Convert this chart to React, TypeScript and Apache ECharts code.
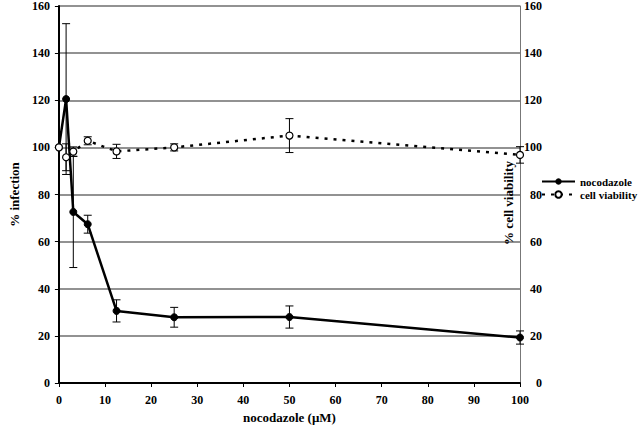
import React, { useEffect, useRef } from "react";
import * as echarts from "echarts";

const concentrations = [0, 1.5625, 3.125, 6.25, 12.5, 25, 50, 100];
const infection = [100, 120.5, 72.6, 67.4, 30.6, 27.9, 28.0, 19.3];
const infectionErr = [0, 32, 23.6, 3.8, 4.7, 4.2, 4.7, 2.8];
const viability = [100, 95.8, 98.2, 102.8, 98.3, 100, 105, 96.8];
const viabilityErr = [0, 5.7, 2, 1.7, 3, 1.5, 7.2, 3.5];
const yTicks = [0, 20, 40, 60, 80, 100, 120, 140, 160];
const xTicks = [0, 10, 20, 30, 40, 50, 60, 70, 80, 90, 100];

const FONT = "Liberation Serif";

function errorBars(err: number[], vals: number[]) {
  return concentrations
    .map((c, i) => [c, vals[i] - err[i], vals[i] + err[i]])
    .filter((_, i) => err[i] > 0);
}

function renderErr(params: any, api: any) {
  const x = api.value(0);
  const lo = api.value(1);
  const hi = api.value(2);
  const p1 = api.coord([x, hi]);
  const p2 = api.coord([x, lo]);
  const w = 4;
  const style = { stroke: "#000", lineWidth: 1 };
  return {
    type: "group",
    children: [
      { type: "line", shape: { x1: p1[0], y1: p1[1], x2: p2[0], y2: p2[1] }, style },
      { type: "line", shape: { x1: p1[0] - w, y1: p1[1], x2: p1[0] + w, y2: p1[1] }, style },
      { type: "line", shape: { x1: p2[0] - w, y1: p2[1], x2: p2[0] + w, y2: p2[1] }, style },
    ],
  };
}

export default function App() {
  const ref = useRef<HTMLDivElement>(null);
  useEffect(() => {
    if (!ref.current) return;
    const chart = echarts.init(ref.current, null, { renderer: "svg" });
    const labelStyle = { fontFamily: FONT, fontWeight: "bold" as const, fontSize: 12, color: "#000" };
    chart.setOption({
      animation: false,
      backgroundColor: "#fff",
      grid: { left: 53, right: 119, top: 6, bottom: 49 },
      legend: {
        orient: "vertical",
        left: 541,
        top: 176,
        padding: 0,
        itemWidth: 33,
        itemHeight: 8,
        itemGap: 2,
        data: ["nocodazole", "cell viability"],
        textStyle: { ...labelStyle, fontSize: 11 },
      },
      graphic: [
        {
          type: "text",
          x: 508,
          y: 203,
          rotation: Math.PI / 2,
          style: {
            text: "% cell viability",
            fontFamily: FONT,
            fontWeight: "bold",
            fontSize: 13,
            fill: "#000",
            align: "center",
            verticalAlign: "middle",
          },
          z: 10,
        },
      ],
      xAxis: {
        type: "value",
        min: 0,
        max: 100,
        interval: 10,
        name: "nocodazole (\u03bcM)",
        nameLocation: "middle",
        nameGap: 28,
        nameTextStyle: { ...labelStyle, fontSize: 13 },
        axisLine: { lineStyle: { color: "#000", width: 2 } },
        axisTick: { show: true, length: 4, lineStyle: { color: "#000", width: 1 } },
        axisLabel: { ...labelStyle, margin: 11, formatter: (v: number) => (xTicks.includes(v) ? String(v) : "") },
        splitLine: { show: false },
      },
      yAxis: [
        {
          type: "value",
          min: 0,
          max: 160,
          interval: 20,
          name: "% infection",
          nameLocation: "middle",
          nameGap: 34,
          nameTextStyle: { ...labelStyle, fontSize: 13 },
          axisLine: { show: true, lineStyle: { color: "#000", width: 2 } },
          axisTick: { show: true, length: 4, lineStyle: { color: "#000", width: 1 } },
          axisLabel: { ...labelStyle, margin: 9, formatter: (v: number) => (yTicks.includes(v) ? String(v) : "") },
          splitLine: { show: true, lineStyle: { color: "#6e6e6e", width: 1.5 } },
        },
        {
          type: "value",
          position: "right",
          min: 0,
          max: 160,
          interval: 20,
          axisLine: { show: true, lineStyle: { color: "#777", width: 1 } },
          axisTick: { show: false },
          axisLabel: { ...labelStyle, margin: 22, align: "right", formatter: (v: number) => (yTicks.includes(v) ? String(v) : "") },
          splitLine: { show: false },
        },
      ],
      series: [
        {
          name: "nocodazole",
          type: "line",
          yAxisIndex: 0,
          data: concentrations.map((c, i) => [c, infection[i]]),
          symbol: "circle",
          symbolSize: 7,
          itemStyle: { color: "#000", borderColor: "#000" },
          lineStyle: { color: "#000", width: 2.5 },
          z: 3,
        },
        {
          name: "cell viability",
          type: "line",
          yAxisIndex: 1,
          data: concentrations.map((c, i) => [c, viability[i]]),
          symbol: "circle",
          symbolSize: 7,
          itemStyle: { color: "#fff", borderColor: "#000", borderWidth: 1.2 },
          lineStyle: { color: "#000", width: 2.5, type: [3, 6] },
          z: 4,
        },
        {
          type: "custom",
          yAxisIndex: 0,
          data: errorBars(infectionErr, infection),
          encode: { x: 0, y: [1, 2] },
          renderItem: renderErr,
          z: 2,
          silent: true,
        },
        {
          type: "custom",
          yAxisIndex: 1,
          data: errorBars(viabilityErr, viability),
          encode: { x: 0, y: [1, 2] },
          renderItem: renderErr,
          z: 2,
          silent: true,
        },
      ],
    });
    return () => chart.dispose();
  }, []);
  return <div ref={ref} style={{ position: "fixed", left: 0, top: 0, width: 639, height: 432 }} />;
}
